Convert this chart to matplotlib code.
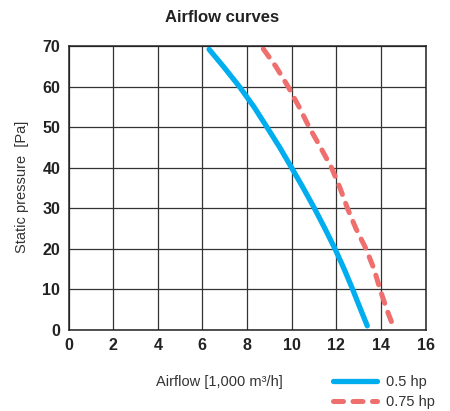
import matplotlib
matplotlib.use("Agg")
import matplotlib.pyplot as plt
from matplotlib import font_manager

names = {f.name for f in font_manager.fontManager.ttflist}
cond = 'Liberation Sans Narrow' if 'Liberation Sans Narrow' in names else 'Liberation Sans'
plt.rcParams['font.family'] = [cond, 'DejaVu Sans']

pressure_05 = [69.3, 65, 60, 55, 50, 45, 40, 35, 30, 25, 20, 15, 10, 5, 0.9]
airflow_05 = [6.30, 6.95, 7.67, 8.32, 8.90, 9.47, 10.0, 10.52, 11.02, 11.49, 11.94, 12.35, 12.73, 13.09, 13.39]
pressure_075 = [69.4, 65, 60, 55, 50, 45, 40, 35, 30, 25, 20, 15, 10, 5, 0.7]
airflow_075 = [8.73, 9.30, 9.85, 10.34, 10.79, 11.3, 11.79, 12.17, 12.50, 12.88, 13.33, 13.69, 13.96, 14.26, 14.56]
labels = ['0.5 hp', '0.75 hp']

fig = plt.figure(figsize=(4.5, 4.11), dpi=100)
ax = fig.add_axes([68.5/450, 81.5/411, 357/450, 283/411])

ax.plot(airflow_05, pressure_05, color='#00AEEF', lw=3.8, solid_capstyle='round',
        solid_joinstyle='round', label=labels[0])
ax.plot(airflow_075, pressure_075, color='#EF6E6E', lw=3.6, dashes=(2.0, 1.9),
        dash_capstyle='round', label=labels[1])

ax.set_xlim(0, 16)
ax.set_ylim(0, 70)
ax.set_xticks(range(0, 17, 2))
ax.set_yticks(range(0, 71, 10))
ax.grid(True, color='#333333', lw=0.9)
ax.set_axisbelow(True)
for s in ax.spines.values():
    s.set_color('#222222')
    s.set_linewidth(1.1)
ax.tick_params(length=0, pad=6)
for t in ax.get_xticklabels() + ax.get_yticklabels():
    t.set_fontweight('bold')
    t.set_fontsize(11.5)
    t.set_color('#222222')

fig.text(222/450, 1 - 17/411, 'Airflow curves', ha='center', va='center',
         fontsize=12, fontweight='bold', color='#222222')
fig.text(22/450, 1 - 187/411, 'Static pressure  [Pa]', rotation=90, ha='center',
         va='center', fontsize=10.5, color='#333333')
fig.text(219/450, 1 - 382/411, 'Airflow [1,000 m³/h]', ha='center', va='center',
         fontsize=10.5, color='#333333')

leg = ax.legend(loc='upper left', bbox_to_anchor=(333/450, 1 - 375/411),
                bbox_transform=fig.transFigure, frameon=False, fontsize=10.5,
                handlelength=3.0, handletextpad=0.6, labelspacing=0.4,
                borderpad=0, borderaxespad=0)
for t in leg.get_texts():
    t.set_color('#333333')

fig.savefig('out.png', dpi=100)
